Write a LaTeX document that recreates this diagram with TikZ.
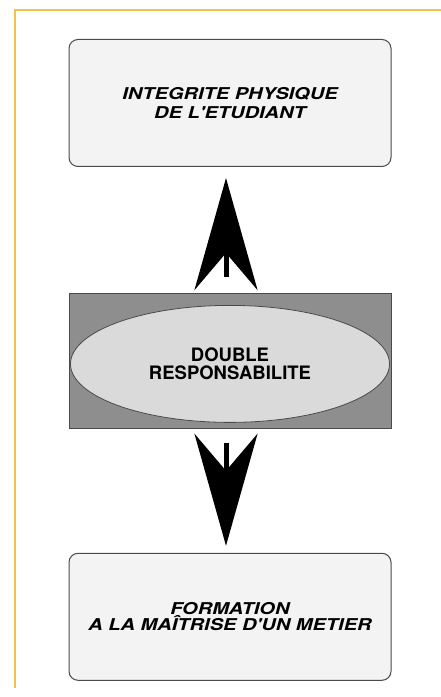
\documentclass[tikz,border=0pt]{standalone}
\usepackage{fontspec}
\setmainfont{TeX Gyre Heros}
\newfontfamily\widefont[FakeStretch=1.23]{TeX Gyre Heros}
\usetikzlibrary{arrows.meta,positioning,shapes.geometric}
\definecolor{framegold}{HTML}{F2C24A}
\definecolor{boxline}{HTML}{4A4A4A}
\definecolor{boxfill}{HTML}{F3F3F3}
\definecolor{darkfill}{HTML}{8E8E8E}
\definecolor{lightfill}{HTML}{DADADA}

\begin{document}
\begin{tikzpicture}[
    x=1pt, y=1pt,
    infobox/.style={draw=boxline, line width=1pt, rounded corners=9pt, fill=boxfill, minimum width=322pt, minimum height=127pt, align=center, font={\widefont\bfseries\itshape\fontsize{16.3}{18.4}\selectfont}},
    dblrect/.style={draw=boxline, line width=0.8pt, fill=darkfill, minimum width=322pt, minimum height=135pt},
    respellipse/.style={ellipse, draw=boxline, line width=0.8pt, fill=lightfill, minimum width=319pt, minimum height=117pt, inner sep=0pt, align=center, font={\bfseries\fontsize{18.5}{18.3}\selectfont}},
    dart/.style={line width=5pt, -{Stealth[length=112pt, width=63pt, inset=37pt]}}
]
\useasboundingbox (0,0) rectangle (441,697);
\draw[framegold, line width=2pt] (441,687) -- (15,687) -- (15,9);

\node[infobox] (integ) at (230,594) {INTEGRITE PHYSIQUE\\DE L'ETUDIANT};
\node[dblrect, below=126pt of integ] (dbl) {};
\node[respellipse] (resp) at ([yshift=-3pt]dbl.center) {DOUBLE\\RESPONSABILITE};
\node[infobox, below=124pt of dbl, font={\widefont\bfseries\itshape\fontsize{16.3}{15}\selectfont}] (form) {FORMATION\\A LA MAÎTRISE D'UN METIER};

\draw[dart, shorten <=16pt, shorten >=11pt] ([xshift=-4pt]dbl.north) -- ([xshift=-4pt]integ.south);
\draw[dart, shorten <=14pt, shorten >=7pt] ([xshift=-4pt]dbl.south) -- ([xshift=-4pt]form.north);
\end{tikzpicture}
\end{document}
